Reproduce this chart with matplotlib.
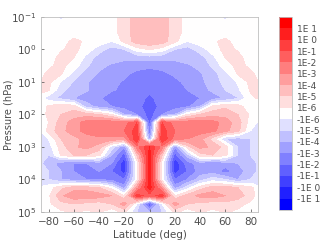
import numpy as np
import matplotlib
matplotlib.use("Agg")
import matplotlib.pyplot as plt

# grid: latitude (deg) x log10 pressure (hPa)
lat = [-90, -80, -70, -60, -50, -40, -30, -20, -10, 0, 10, 20, 30, 40, 50, 60, 70, 80, 90]
log_p = [-1.0, -0.75, -0.5, -0.25, 0.0, 0.25, 0.5, 0.75, 1.0, 1.25, 1.5, 1.75, 2.0,
         2.25, 2.5, 2.75, 3.0, 3.25, 3.5, 3.75, 4.0, 4.25, 4.5, 4.75, 5.0]

# signed log-class of the field: 0 = |v| < 1E-6, +-1 = 1E-6..1E-5, ... +-8 = beyond 1E 1
field = [
    [0, 0, -0.8, 0, 0, 0, 0, 1.0, 2.0, 2.4, 2.0, 1.0, 0, 0, 0, -0.8, 0, 0, 0],
    [0, 0, 0, 0, 0, 0, 0, 1.0, 2.0, 2.5, 2.0, 1.0, 0, 0, 0, 0, 0, 0, 0],
    [0, 0, 0, 0, 0, 0, 0, 1.0, 2.0, 2.5, 2.0, 1.0, 0, 0, 0, 0, 0, 0, 0],
    [0, 0, 0, 0.8, 0.3, 0, -0.5, 0.8, 2.0, 2.4, 2.0, 0.8, -0.5, 0, 0.3, 0.8, 0, 0, 0],
    [0, 0, 0.4, 0.8, 0, -1.0, -2.0, -1.5, 0.0, 0.6, 0.0, -1.5, -2.0, -1.0, 0, 0.8, 0.4, 0, 0],
    [0, 0, 0.8, 0.5, -0.8, -2.0, -2.2, -2.2, -2.2, -2.0, -2.2, -2.2, -2.2, -2.0, -0.8, 0.5, 0.8, 0, 0],
    [0, 0.3, 0.8, 0, -1.3, -2.3, -2.6, -3.0, -3.1, -3.2, -3.1, -3.0, -2.6, -2.3, -1.3, 0, 0.8, 0.3, 0],
    [0, 0.7, 0.6, -0.8, -2.0, -2.6, -3.2, -3.3, -3.8, -4.1, -3.8, -3.3, -3.2, -2.6, -2.0, -0.8, 0.6, 0.7, 0],
    [0.3, 0.8, -0.6, -1.6, -2.4, -2.9, -3.3, -3.6, -4.2, -4.3, -4.2, -3.8, -3.2, -2.8, -2.0, -1.2, -0.4, 0.8, 0.3],
    [0.8, 0.6, -1.2, -2.0, -2.4, -3.0, -3.4, -3.7, -4.2, -4.4, -4.2, -3.8, -3.5, -3.0, -2.3, -1.5, -0.7, 0.6, 0.8],
    [0.3, -1.0, -1.8, -2.5, -3.0, -3.4, -4.0, -4.2, -4.3, -4.6, -4.3, -4.2, -4.0, -3.5, -3.0, -2.4, -1.6, 0.3, 0.8],
    [-0.5, 0.7, 1.2, 1.0, -2.0, -3.0, -3.5, -4.0, -4.2, -5.0, -4.2, -4.0, -3.8, -2.5, 0.8, 1.3, 1.0, -0.3, -0.5],
    [-0.6, 0.8, 1.5, 2.0, 2.0, 1.5, 0.5, -2.5, -3.5, -5.0, -3.5, -2.5, 0.5, 1.5, 2.0, 2.2, 1.5, 0.3, -0.8],
    [-1.0, 0.5, 2.0, 3.0, 4.0, 4.2, 4.2, 4.0, 5.5, -5.0, 5.5, 4.0, 4.2, 4.2, 4.0, 3.0, 2.0, 0.0, -1.0],
    [-1.0, 0.8, 2.2, 3.0, 4.0, 4.3, 4.3, 4.5, 6.0, -4.5, 6.0, 4.5, 4.3, 4.0, 3.8, 2.8, 1.8, -0.5, -1.0],
    [-1.2, -0.5, 1.5, 2.2, 2.8, 3.2, 3.2, 3.0, 6.5, -3.0, 6.5, 4.0, 3.5, 2.8, 1.0, -1.5, -2.0, -1.5, -1.0],
    [-1.0, -1.0, 1.0, 2.3, 2.8, 2.0, -1.0, -3.5, 4.0, 6.5, 4.0, -3.5, 1.0, 2.8, 2.3, 1.0, -1.5, -1.5, -1.0],
    [-1.0, -1.5, 0.6, 1.5, 1.5, 0.8, -2.5, -5.0, 1.5, 7.0, 1.5, -5.0, -2.0, 1.0, 1.5, 0.8, -1.5, -1.5, -1.0],
    [-1.0, -2.0, -3.0, -3.5, -3.5, -3.0, -3.5, -6.3, 0.0, 7.0, 0.0, -6.3, -4.0, -3.0, -3.5, -3.0, -2.5, -2.0, -1.0],
    [-1.0, -1.5, -2.5, -3.5, -4.0, -3.5, -4.5, -6.0, 0.0, 7.0, 0.0, -6.0, -4.5, -3.0, -3.0, -4.0, -3.0, -2.0, -1.0],
    [-1.0, -1.5, -2.5, -3.0, -3.5, -3.5, -4.0, -4.5, 0.0, 7.0, 0.0, -4.5, -3.5, -2.0, -1.0, -1.5, -2.5, -1.5, -1.0],
    [-0.5, 0.0, 1.2, 2.0, 2.0, 1.5, 0.0, -3.0, 3.0, 7.0, 3.0, -3.0, -1.0, 1.0, 2.0, 2.0, 1.5, 0.8, -0.5],
    [-0.5, 0.3, 2.3, 3.2, 3.3, 3.0, 2.5, 0.5, 6.0, 5.0, 6.0, 0.5, 2.0, 2.8, 3.0, 2.5, 2.0, 1.0, -0.5],
    [0, 0.3, 1.2, 1.5, 1.2, 1.0, 1.5, 3.0, -0.5, -5.5, -0.5, 3.0, 1.5, 1.2, 1.0, 1.2, 0.8, 0.3, 0],
    [0, -0.3, 0.3, 0.6, 0.3, 0.6, -0.2, 0.8, -1.5, -2.5, -1.5, 0.8, -0.2, 0.6, 0.2, 0.6, 0.3, -0.3, 0],
]

cbar_labels = ["-1E 1", "-1E 0", "-1E-1", "-1E-2", "-1E-3", "-1E-4", "-1E-5", "-1E-6",
               "1E-6", "1E-5", "1E-4", "1E-3", "1E-2", "1E-1", "1E 0", "1E 1"]

levels = np.arange(-8.5, 9.0, 1.0)
colors = plt.get_cmap("bwr")(np.linspace(0, 1, len(levels) - 1))

fig = plt.figure(figsize=(3.33, 2.42), dpi=100)
ax = fig.add_axes([0.123, 0.124, 0.652, 0.806])
cs = ax.contourf(lat, log_p, np.array(field), levels=levels, colors=colors)

ax.set_xlim(-86, 86)
ax.set_ylim(5, -1)
ax.set_xticks(np.arange(-80, 81, 20))
ax.set_yticks(np.arange(-1, 6))
ax.set_yticklabels([f"$10^{{{n}}}$" for n in range(-1, 6)])
ax.tick_params(labelsize=7.5, colors="0.3", direction="in", length=2, width=0.5)
for s in ax.spines.values():
    s.set_color("0.75")
    s.set_linewidth(0.6)
ax.set_xlabel("Latitude (deg)", fontsize=7.5, color="0.3", labelpad=2)
ax.set_ylabel("Pressure (hPa)", fontsize=7, color="0.3")
ax.yaxis.set_label_coords(-0.125, 0.5)

cax = fig.add_axes([0.838, 0.132, 0.039, 0.798])
cb = fig.colorbar(cs, cax=cax, ticks=np.arange(-7.5, 8.0, 1.0))
cb.set_ticklabels(cbar_labels)
cb.ax.tick_params(labelsize=6.5, colors="0.3", length=0)
cb.outline.set_edgecolor("0.75")
cb.outline.set_linewidth(0.6)

fig.savefig("out.png", dpi=100)
